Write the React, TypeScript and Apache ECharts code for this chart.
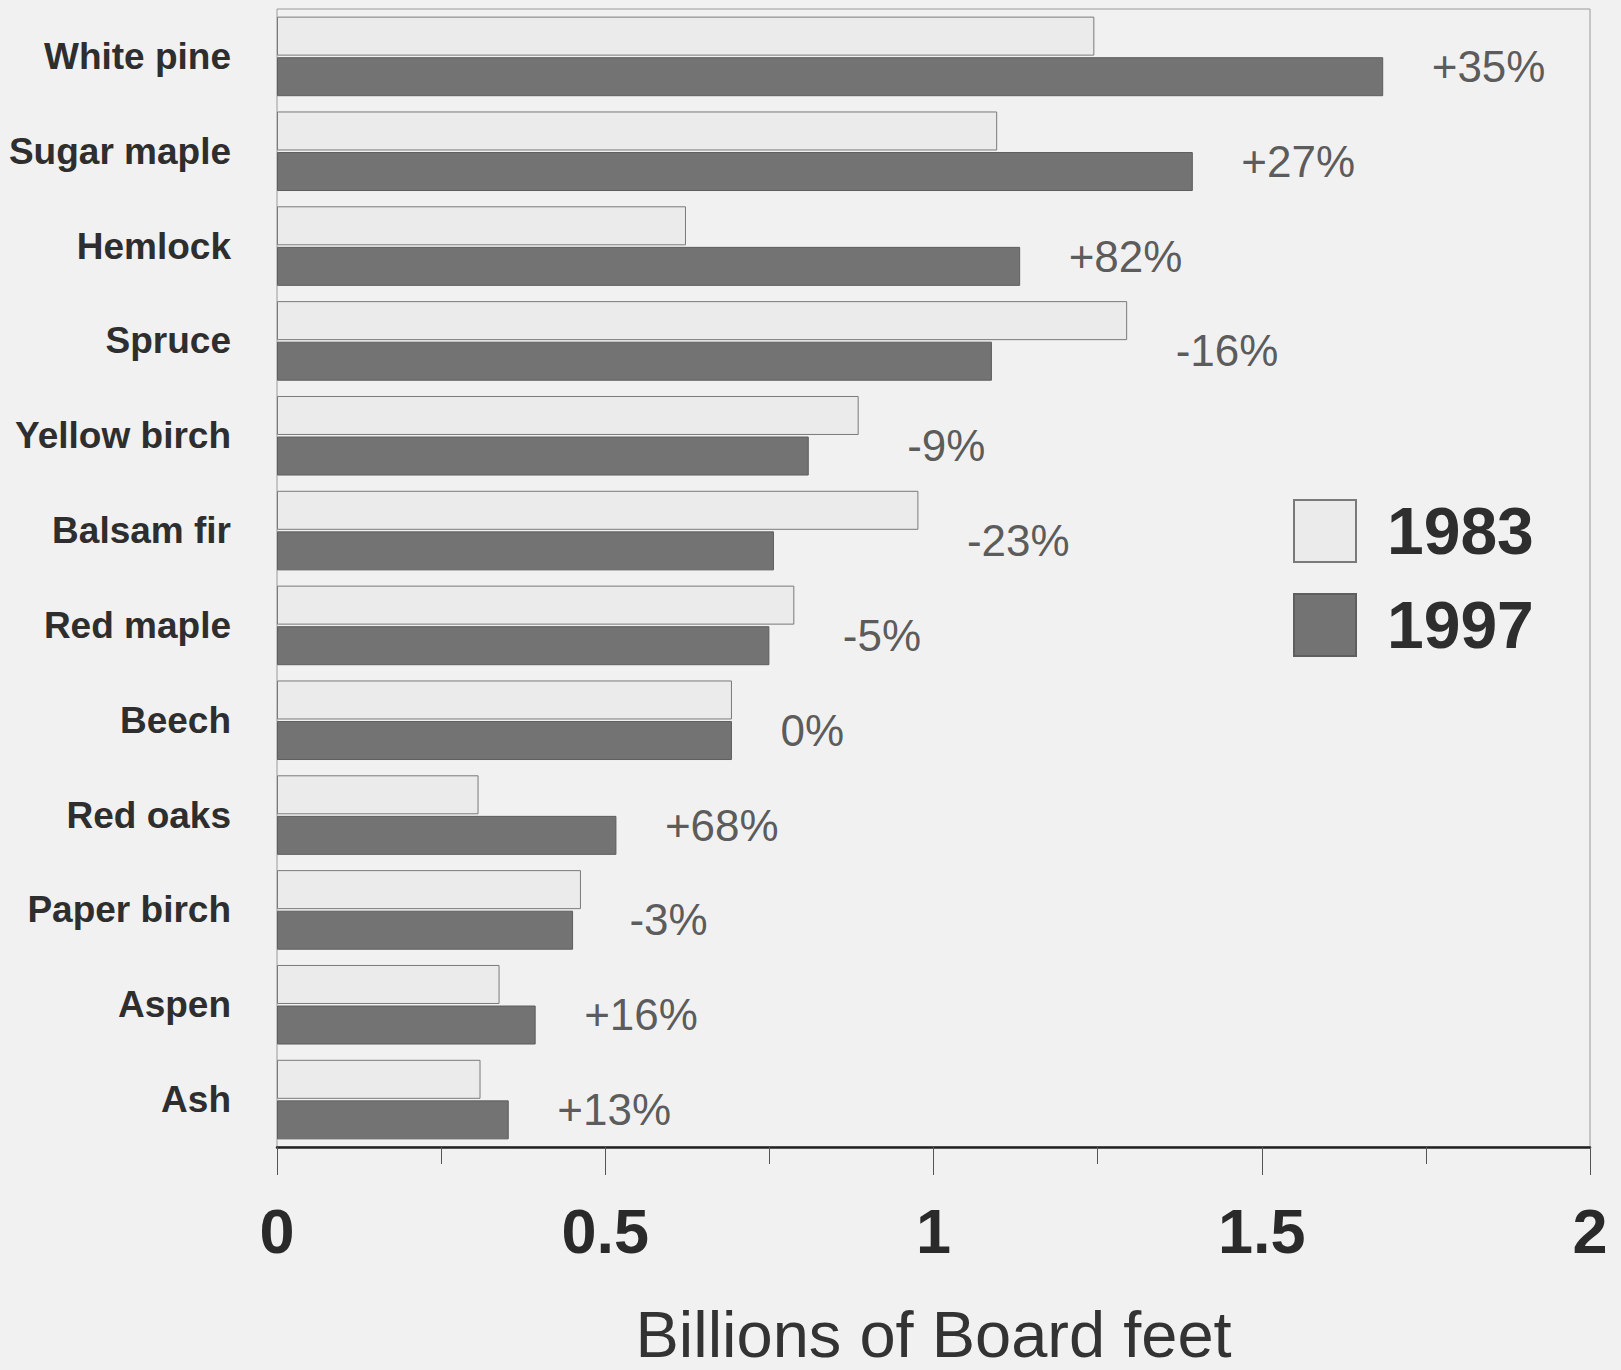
import React, { useEffect, useRef } from "react";
import * as echarts from "echarts";

const categories = [
  "White pine",
  "Sugar maple",
  "Hemlock",
  "Spruce",
  "Yellow birch",
  "Balsam fir",
  "Red maple",
  "Beech",
  "Red oaks",
  "Paper birch",
  "Aspen",
  "Ash",
];
const values1983 = [1.245, 1.097, 0.623, 1.295, 0.886, 0.977, 0.788, 0.693, 0.307, 0.463, 0.339, 0.31];
const values1997 = [1.685, 1.395, 1.132, 1.089, 0.81, 0.757, 0.75, 0.693, 0.517, 0.451, 0.394, 0.353];
const changeLabels = ["+35%", "+27%", "+82%", "-16%", "-9%", "-23%", "-5%", "0%", "+68%", "-3%", "+16%", "+13%"];
const seriesNames = ["1983", "1997"];
const xTicks = [0, 0.5, 1, 1.5, 2];

const FONT = "'Liberation Sans', Arial, Helvetica, sans-serif";

export default function App() {
  const ref = useRef<HTMLDivElement>(null);
  useEffect(() => {
    if (!ref.current) return;
    const chart = echarts.init(ref.current, undefined, { renderer: "svg" });
    const labelPos = categories.map((c, i) => Math.max(values1983[i], values1997[i]));
    chart.setOption({
      animation: false,
      backgroundColor: "#f1f1f1",
      textStyle: { fontFamily: FONT },
      grid: {
        left: 277,
        right: 31,
        top: 9,
        bottom: 223,
        outerBoundsMode: "none",
        containLabel: false,
        show: true,
        borderColor: "#9a9a9a",
        borderWidth: 1,
        backgroundColor: "transparent",
      },
      legend: {
        data: seriesNames,
        orient: "vertical",
        left: 1288,
        top: 493,
        itemWidth: 62,
        itemHeight: 62,
        itemGap: 28,
        icon: "rect",
        textStyle: {
          fontSize: 66,
          fontWeight: "bold",
          color: "#2e2e2e",
          fontFamily: FONT,
          padding: [0, 0, 0, 26],
        },
      },
      xAxis: {
        type: "value",
        min: 0,
        max: 2,
        interval: 0.5,
        axisLine: { show: true, lineStyle: { color: "#222", width: 2.5 } },
        axisTick: { show: true, length: 28, lineStyle: { color: "#555", width: 1 } },
        minorTick: { show: true, splitNumber: 2, length: 17, lineStyle: { color: "#555", width: 1 } },
        splitLine: { show: false },
        axisLabel: {
          fontSize: 63,
          fontWeight: "bold",
          color: "#2a2a2a",
          margin: 52,
          fontFamily: FONT,
          formatter: (v: number) => (xTicks.includes(v) ? String(v) : ""),
        },
        name: "Billions of Board feet",
        nameLocation: "middle",
        nameGap: 162,
        nameTextStyle: { fontSize: 65, lineHeight: 50, color: "#333", fontFamily: FONT },
      },
      yAxis: {
        type: "category",
        data: categories,
        inverse: true,
        axisLine: { show: false },
        axisTick: { show: false },
        axisLabel: {
          fontSize: 37,
          fontWeight: "bold",
          color: "#2e2e2e",
          margin: 46,
          fontFamily: FONT,
        },
      },
      series: [
        {
          name: seriesNames[0],
          type: "bar",
          data: values1983,
          barWidth: 39,
          barGap: "4%",
          itemStyle: { color: "#ebebeb", borderColor: "#7a7a7a", borderWidth: 1 },
        },
        {
          name: seriesNames[1],
          type: "bar",
          data: values1997,
          barWidth: 39,
          barGap: "4%",
          itemStyle: { color: "#737373", borderColor: "#5e5e5e", borderWidth: 1 },
        },
        {
          name: "change",
          type: "scatter",
          data: labelPos,
          symbolSize: 1,
          itemStyle: { color: "transparent" },
          silent: true,
          label: {
            show: true,
            position: "right",
            distance: 48,
            offset: [0, 10],
            fontSize: 44,
            color: "#333",
            fontFamily: FONT,
            formatter: (p: any) => changeLabels[p.dataIndex],
          },
        },
      ],
    });
    return () => chart.dispose();
  }, []);
  return (
    <div
      ref={ref}
      style={{ position: "absolute", left: 0, top: 0, width: 1621, height: 1370 }}
    />
  );
}
